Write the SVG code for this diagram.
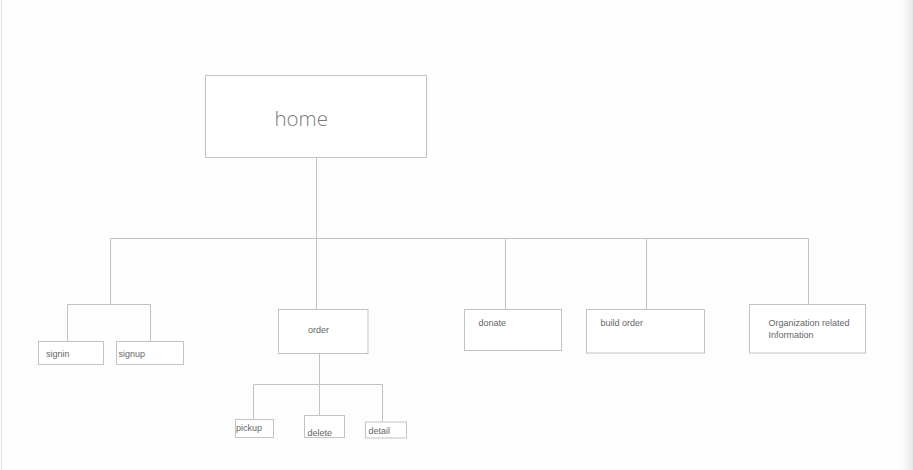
<svg xmlns="http://www.w3.org/2000/svg" width="913" height="470" viewBox="0 0 913 470">
<defs>
<linearGradient id="shadow" x1="0" y1="0" x2="1" y2="0">
<stop offset="0" stop-color="#fdfdfd" stop-opacity="0"/>
<stop offset="1" stop-color="#e6e6e6"/>
</linearGradient>
</defs>
<style>
.box{fill:#ffffff;stroke:#c3c3c3;stroke-width:1}
.ln{fill:none;stroke:#c3c3c3;stroke-width:1}
.t{font-family:"Liberation Sans",Arial,sans-serif;font-size:9px;fill:#666666}
.big{font-family:"Open Sans","Noto Sans",sans-serif;font-size:20.5px;font-weight:300;fill:#7a7a7a}
</style>
<rect x="0" y="0" width="913" height="470" fill="#fdfdfd"/>
<rect x="898" y="0" width="15" height="470" fill="url(#shadow)"/>
<line x1="1.5" y1="0" x2="1.5" y2="470" stroke="#e2e2e2" stroke-width="1"/>
<g id="connectors">
<path class="ln" d="M316.5 157.5 V238.5"/>
<path class="ln" d="M110.5 238.5 H808.5"/>
<path class="ln" d="M110.5 238.5 V304.5 M67.5 304.5 H150.5 M67.5 304.5 V341.5 M150.5 304.5 V341.5"/>
<path class="ln" d="M316.5 238.5 V309.5"/>
<path class="ln" d="M505.5 238.5 V309.5"/>
<path class="ln" d="M646.5 238.5 V309.5"/>
<path class="ln" d="M808.5 238.5 V304.5"/>
<path class="ln" d="M319.5 353.5 V415.5 M253.5 384.5 H382.5 M253.5 384.5 V419.5 M382.5 384.5 V422"/>
</g>
<g id="home">
<rect class="box" x="205.5" y="75.5" width="221" height="82"/>
<text class="big" x="274.5" y="126">home</text>
</g>
<g id="signin">
<rect class="box" x="38.5" y="341.5" width="65" height="23"/>
<text class="t" x="46" y="357">signin</text>
</g>
<g id="signup">
<rect class="box" x="116.5" y="341.5" width="67" height="23"/>
<text class="t" x="118.5" y="357">signup</text>
</g>
<g id="order">
<rect class="box" x="278.5" y="309.5" width="89.5" height="44"/>
<text class="t" x="308" y="333">order</text>
</g>
<g id="pickup">
<rect class="box" x="235.5" y="419.5" width="38" height="18"/>
<text class="t" x="236" y="431">pickup</text>
</g>
<g id="delete">
<rect class="box" x="304.5" y="415.5" width="40" height="22"/>
<text class="t" x="307.5" y="435.5">delete</text>
</g>
<g id="detail">
<rect class="box" x="365.5" y="422" width="41" height="16"/>
<text class="t" x="368.5" y="434">detail</text>
</g>
<g id="donate">
<rect class="box" x="464.5" y="309.5" width="97" height="41"/>
<text class="t" x="478.5" y="326">donate</text>
</g>
<g id="build-order">
<rect class="box" x="586.5" y="309.5" width="118" height="43.5"/>
<text class="t" x="600.5" y="326">build order</text>
</g>
<g id="organization">
<rect class="box" x="749.5" y="304.5" width="116" height="48.5"/>
<text class="t" x="768.5" y="326">Organization related</text>
<text class="t" x="768.5" y="337.5">Information</text>
</g>
</svg>
